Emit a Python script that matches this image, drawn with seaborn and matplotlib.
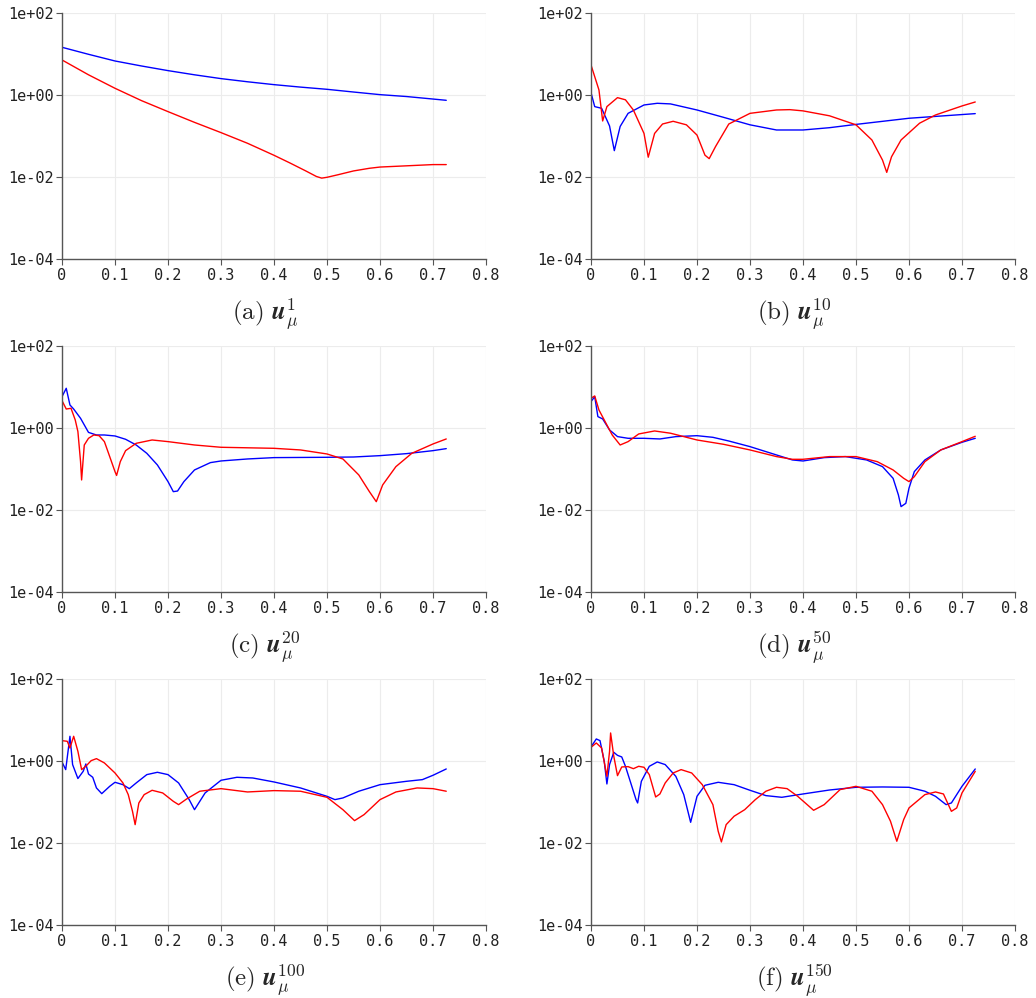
import numpy as np
import pandas as pd
import matplotlib
matplotlib.use("Agg")
import matplotlib.pyplot as plt
import seaborn as sns

# values as log10(y)
a_blue_x = [0, 0.05, 0.1, 0.15, 0.2, 0.25, 0.3, 0.35, 0.4, 0.45, 0.5, 0.55, 0.6, 0.65, 0.725]
a_blue_ly = [1.171, 1.0, 0.837, 0.715, 0.602, 0.5, 0.407, 0.33, 0.26, 0.2, 0.146, 0.08, 0.016, -0.03, -0.122]
a_red_x = [0, 0.05, 0.1, 0.15, 0.2, 0.25, 0.3, 0.35, 0.4, 0.43, 0.46, 0.48, 0.49, 0.5, 0.52, 0.55, 0.58,
           0.6, 0.65, 0.7, 0.725]
a_red_ly = [0.862, 0.5, 0.171, -0.13, -0.398, -0.66, -0.91, -1.17, -1.463, -1.65, -1.845, -1.98, -2.02, -2.0,
            -1.94, -1.845, -1.78, -1.75, -1.72, -1.69, -1.69]

b_blue_x = [0, 0.007, 0.02, 0.035, 0.044, 0.055, 0.07, 0.1, 0.125, 0.15, 0.2, 0.25, 0.3, 0.35, 0.4,
            0.45, 0.5, 0.6, 0.725]
b_blue_ly = [0.065, -0.276, -0.317, -0.748, -1.35, -0.76, -0.44, -0.236, -0.195, -0.21, -0.358, -0.537,
             -0.72, -0.846, -0.846, -0.79, -0.71, -0.56, -0.447]
b_red_x = [0, 0.015, 0.022, 0.03, 0.05, 0.065, 0.08, 0.1, 0.108, 0.12, 0.135, 0.155, 0.18, 0.2, 0.215,
           0.223, 0.235, 0.26, 0.3, 0.35, 0.375, 0.4, 0.45, 0.5, 0.53, 0.55, 0.558, 0.567, 0.585, 0.62,
           0.65, 0.7, 0.725]
b_red_ly = [0.74, 0.13, -0.626, -0.276, -0.057, -0.11, -0.36, -0.93, -1.51, -0.93, -0.70, -0.634, -0.72,
            -0.97, -1.46, -1.545, -1.25, -0.70, -0.44, -0.358, -0.35, -0.38, -0.50, -0.72, -1.09, -1.58,
            -1.88, -1.50, -1.09, -0.68, -0.48, -0.26, -0.163]

c_blue_x = [0, 0.008, 0.015, 0.022, 0.035, 0.05, 0.065, 0.08, 0.1, 0.12, 0.14, 0.16, 0.18, 0.2, 0.21,
            0.218, 0.23, 0.25, 0.28, 0.3, 0.35, 0.4, 0.5, 0.55, 0.6, 0.65, 0.7, 0.725]
c_blue_ly = [0.772, 0.976, 0.569, 0.47, 0.244, -0.1, -0.163, -0.163, -0.187, -0.268, -0.407, -0.61, -0.894,
             -1.30, -1.545, -1.53, -1.30, -1.016, -0.837, -0.797, -0.748, -0.715, -0.707, -0.70, -0.667,
             -0.618, -0.545, -0.496]
c_red_x = [0, 0.008, 0.017, 0.025, 0.03, 0.035, 0.037, 0.042, 0.05, 0.06, 0.07, 0.08, 0.09, 0.1, 0.103,
           0.11, 0.12, 0.14, 0.17, 0.2, 0.25, 0.3, 0.4, 0.45, 0.5, 0.53, 0.56, 0.58, 0.593, 0.605, 0.63,
           0.66, 0.7, 0.725]
c_red_ly = [0.675, 0.47, 0.488, 0.203, -0.08, -0.813, -1.26, -0.407, -0.244, -0.163, -0.18, -0.325, -0.69,
            -1.057, -1.15, -0.813, -0.545, -0.366, -0.285, -0.325, -0.407, -0.463, -0.488, -0.528, -0.626,
            -0.748, -1.138, -1.545, -1.79, -1.382, -0.935, -0.61, -0.382, -0.26]

d_blue_x = [0, 0.007, 0.013, 0.022, 0.035, 0.05, 0.07, 0.1, 0.13, 0.16, 0.2, 0.23, 0.26, 0.3, 0.35, 0.38,
            0.4, 0.44, 0.48, 0.52, 0.55, 0.57, 0.58, 0.585, 0.594, 0.6, 0.61, 0.63, 0.66, 0.7, 0.725]
d_blue_ly = [0.65, 0.772, 0.285, 0.228, -0.04, -0.203, -0.244, -0.244, -0.26, -0.203, -0.18, -0.22, -0.31,
             -0.447, -0.65, -0.772, -0.797, -0.715, -0.69, -0.772, -0.935, -1.22, -1.626, -1.91, -1.83,
             -1.46, -1.057, -0.772, -0.528, -0.341, -0.244]
d_red_x = [0, 0.007, 0.015, 0.025, 0.04, 0.055, 0.07, 0.09, 0.12, 0.15, 0.2, 0.25, 0.3, 0.35, 0.38, 0.4,
           0.45, 0.5, 0.54, 0.57, 0.59, 0.6, 0.61, 0.63, 0.66, 0.7, 0.725]
d_red_ly = [0.732, 0.789, 0.447, 0.203, -0.163, -0.407, -0.325, -0.138, -0.065, -0.12, -0.285, -0.39,
            -0.528, -0.69, -0.756, -0.756, -0.69, -0.69, -0.813, -1.016, -1.22, -1.30, -1.18, -0.813,
            -0.528, -0.325, -0.195]

e_blue_x = [0, 0.007, 0.015, 0.02, 0.03, 0.04, 0.045, 0.05, 0.058, 0.065, 0.075, 0.09, 0.1, 0.115, 0.127,
            0.14, 0.16, 0.18, 0.2, 0.22, 0.24, 0.25, 0.26, 0.27, 0.3, 0.33, 0.36, 0.4, 0.45, 0.5, 0.515,
            0.53, 0.56, 0.6, 0.65, 0.68, 0.7, 0.725]
e_blue_ly = [-0.016, -0.203, 0.61, -0.08, -0.42, -0.244, -0.065, -0.31, -0.39, -0.65, -0.789, -0.61,
             -0.512, -0.57, -0.667, -0.528, -0.325, -0.268, -0.325, -0.528, -0.935, -1.18, -0.976, -0.772,
             -0.463, -0.39, -0.407, -0.504, -0.65, -0.854, -0.935, -0.894, -0.73, -0.57, -0.488, -0.447,
             -0.341, -0.187]
e_red_x = [0, 0.01, 0.015, 0.022, 0.03, 0.037, 0.045, 0.055, 0.065, 0.08, 0.1, 0.115, 0.125, 0.133, 0.138,
           0.145, 0.155, 0.17, 0.19, 0.21, 0.22, 0.235, 0.26, 0.3, 0.35, 0.4, 0.45, 0.5, 0.53, 0.552, 0.57,
           0.6, 0.63, 0.67, 0.7, 0.725]
e_red_ly = [0.504, 0.488, 0.325, 0.61, 0.244, -0.203, -0.12, 0.016, 0.065, -0.04, -0.285, -0.528, -0.813,
            -1.22, -1.545, -1.016, -0.813, -0.707, -0.772, -0.976, -1.057, -0.92, -0.73, -0.667, -0.748,
            -0.715, -0.73, -0.878, -1.18, -1.447, -1.30, -0.935, -0.748, -0.65, -0.667, -0.73]

f_blue_x = [0, 0.01, 0.017, 0.025, 0.03, 0.035, 0.043, 0.05, 0.058, 0.065, 0.075, 0.085, 0.088, 0.095,
            0.11, 0.125, 0.14, 0.16, 0.175, 0.188, 0.2, 0.215, 0.24, 0.27, 0.3, 0.33, 0.36, 0.4, 0.45,
            0.5, 0.55, 0.6, 0.63, 0.65, 0.67, 0.68, 0.7, 0.725]
f_blue_ly = [0.35, 0.545, 0.504, 0.0, -0.553, -0.08, 0.22, 0.146, 0.106, -0.122, -0.528, -0.935, -1.016,
             -0.488, -0.122, -0.016, -0.08, -0.366, -0.813, -1.488, -0.854, -0.585, -0.512, -0.57, -0.707,
             -0.837, -0.878, -0.797, -0.7, -0.634, -0.626, -0.634, -0.73, -0.854, -1.057, -1.016, -0.61,
             -0.187]
f_red_x = [0, 0.01, 0.02, 0.03, 0.035, 0.037, 0.043, 0.05, 0.058, 0.07, 0.08, 0.09, 0.1, 0.11, 0.122,
           0.13, 0.14, 0.155, 0.17, 0.19, 0.21, 0.23, 0.24, 0.246, 0.255, 0.27, 0.29, 0.31, 0.33, 0.35,
           0.37, 0.39, 0.42, 0.44, 0.47, 0.5, 0.53, 0.55, 0.565, 0.577, 0.59, 0.6, 0.63, 0.65, 0.665,
           0.68, 0.69, 0.7, 0.725]
f_red_ly = [0.34, 0.447, 0.325, -0.366, 0.244, 0.691, 0.122, -0.35, -0.138, -0.13, -0.18, -0.122, -0.146,
            -0.325, -0.87, -0.797, -0.528, -0.285, -0.203, -0.285, -0.57, -1.057, -1.707, -1.967, -1.545,
            -1.34, -1.18, -0.935, -0.73, -0.634, -0.667, -0.854, -1.195, -1.057, -0.69, -0.61, -0.73,
            -1.057, -1.46, -1.95, -1.42, -1.138, -0.813, -0.748, -0.797, -1.22, -1.138, -0.772, -0.244]

panel_labels = ["a", "b", "c", "d", "e", "f"]
panel_iters = ["1", "10", "20", "50", "100", "150"]
x_ticks = [0, 0.1, 0.2, 0.3, 0.4, 0.5, 0.6, 0.7, 0.8]
x_tick_labels = ["0", "0.1", "0.2", "0.3", "0.4", "0.5", "0.6", "0.7", "0.8"]
y_ticks = [1e-4, 1e-2, 1e0, 1e2]
y_tick_labels = ["1e-04", "1e-02", "1e+00", "1e+02"]

panels = [
    (a_blue_x, a_blue_ly, a_red_x, a_red_ly),
    (b_blue_x, b_blue_ly, b_red_x, b_red_ly),
    (c_blue_x, c_blue_ly, c_red_x, c_red_ly),
    (d_blue_x, d_blue_ly, d_red_x, d_red_ly),
    (e_blue_x, e_blue_ly, e_red_x, e_red_ly),
    (f_blue_x, f_blue_ly, f_red_x, f_red_ly),
]

sns.set_style("white")
plt.rcParams["mathtext.fontset"] = "cm"
plt.rcParams["font.family"] = ["DejaVu Sans Mono"]

W, H = 1036, 998
fig = plt.figure(figsize=(W / 100, H / 100), dpi=100)

lefts = [62, 591]
tops = [13.3, 346.3, 679.3]
aw, ah = 424, 246

for i, (bx, bly, rx, rly) in enumerate(panels):
    row, col = divmod(i, 2)
    left, top = lefts[col], tops[row]
    ax = fig.add_axes([left / W, 1 - (top + ah) / H, aw / W, ah / H])

    df = pd.concat([
        pd.DataFrame({"x": bx, "y": 10.0 ** np.array(bly), "s": "blue"}),
        pd.DataFrame({"x": rx, "y": 10.0 ** np.array(rly), "s": "red"}),
    ])
    sns.lineplot(data=df, x="x", y="y", hue="s", palette={"blue": "#0000ff", "red": "#ff0000"},
                 estimator=None, sort=False, linewidth=1.0, legend=False, ax=ax)

    ax.set_yscale("log")
    ax.set_xlim(0, 0.8)
    ax.set_ylim(1e-4, 1e2)
    ax.set_xticks(x_ticks)
    ax.set_xticklabels(x_tick_labels)
    ax.set_yticks(y_ticks)
    ax.set_yticklabels(y_tick_labels)
    ax.minorticks_off()
    ax.set_xlabel("")
    ax.set_ylabel("")
    ax.grid(True, color="#ececec", linewidth=0.8)
    for s in ["top", "right"]:
        ax.spines[s].set_visible(False)
    for s in ["left", "bottom"]:
        ax.spines[s].set_color("#555555")
        ax.spines[s].set_linewidth(1.0)
    ax.tick_params(direction="out", length=4, width=0.8, color="#555555",
                   labelsize=11, labelcolor="#222222", pad=2, bottom=True, left=True)

    # caption under each panel, like a LaTeX subfigure
    cx = left + aw / 2 - 9
    cy = top + 307
    caption = r"$\mathrm{(" + panel_labels[i] + r")}\ \mathbfit{u}_{\mu}^{" + panel_iters[i] + "}$"
    fig.text(cx / W, 1 - cy / H, caption, ha="center", va="baseline", fontsize=18,
             math_fontfamily="cm")

fig.savefig("out.png", dpi=100)
